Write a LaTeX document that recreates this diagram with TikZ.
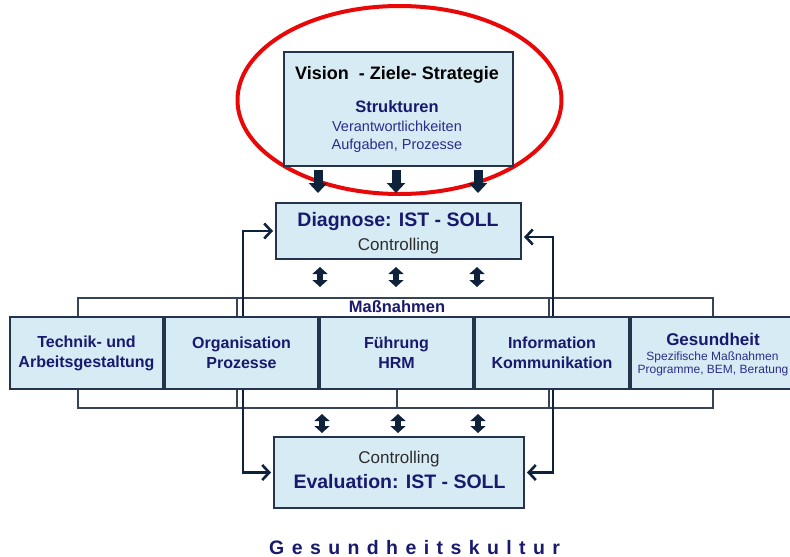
\documentclass[tikz,border=0pt]{standalone}
\usepackage{fontspec}
\setmainfont{Liberation Sans}
\usetikzlibrary{arrows.meta}
\definecolor{boxfill}{RGB}{214,235,244}
\definecolor{boxline}{RGB}{35,52,75}
\definecolor{navy}{RGB}{25,25,110}
\definecolor{navylight}{RGB}{45,45,140}
\definecolor{arrnavy}{RGB}{14,34,60}
\definecolor{framecol}{RGB}{55,68,88}
\definecolor{redring}{RGB}{232,8,8}
\definecolor{greytext}{RGB}{45,45,45}
\newcommand{\setfs}[1]{\fontsize{#1}{#1}\selectfont}
\begin{document}
\begin{tikzpicture}[x=1pt,y=-1pt,
  box/.style={draw=boxline, line width=1.6pt, fill=boxfill, inner sep=0pt, outer sep=0pt},
  rowbox/.style={box, minimum height=72pt, align=center, text=navy, font=\bfseries\fontsize{16}{20}\selectfont},
  lbl/.style={inner sep=0pt, anchor=base},
  downarr/.style={draw=arrnavy, line width=9pt, -{Triangle[length=10pt,width=18pt]}, shorten <=4pt, shorten >=10pt},
  dblarr/.style={draw=arrnavy, line width=6pt, {Triangle[length=7pt,width=15pt]}-{Triangle[length=7pt,width=15pt]}},
  fb/.style={draw=arrnavy, line width=2.6pt, {Straight Barb[length=7pt,width=15pt]}-{Straight Barb[length=7pt,width=15pt]}, shorten <=3pt, shorten >=3pt},
  framel/.style={draw=framecol, line width=1.1pt}
]
\useasboundingbox (0,0) rectangle (790,557);

% red ring
\draw[redring, line width=4pt] (399.5,100) ellipse [x radius=162, y radius=94];

% main boxes
\node[box, minimum width=229pt, minimum height=114pt] (top) at (398.5,109) {};
\node[box, minimum width=245pt, minimum height=56pt] (diag) at (398.5,231) {};
\node[box, minimum width=250pt, minimum height=71pt] (eval) at (399,472.5) {};

% Massnahmen frame
\coordinate (mtop) at (397.5,298);
\coordinate (mbot) at (397.5,408);
\draw[framel] (78,298) rectangle (713,408);
\draw[framel] (237,298) -- (237,408);
\draw[framel] (549,298) -- (549,408);
\draw[framel] (397,389) -- (397,408);

% feedback connectors
\draw[fb] (diag.west) -- ++(-33,0) |- (eval.west);
\draw[fb] ([yshift=-6pt]diag.east) -- ++(32,0) |- (eval.east);

% row of measures
\node[rowbox, minimum width=153pt] (tech) at (86.5,353) {Technik- und\\Arbeitsgestaltung};
\node[rowbox, minimum width=153pt] (org) at (241.5,353) {Organisation\\Prozesse};
\node[rowbox, minimum width=153pt] (fuehr) at (396.5,353) {Führung\\HRM};
\node[rowbox, minimum width=154pt] (info) at (552,353) {Information\\Kommunikation};
\node[box, minimum width=161pt, minimum height=72pt] (ges) at (711.5,353) {};

% block arrows
\foreach \dx/\n in {-80.5/a,-2.5/b,79.5/c}
  \draw[downarr] ([xshift=\dx pt]top.south) -- ([xshift=\dx pt]top.south |- diag.north);
\foreach \dx in {-78.5,-2.5,78.5}
  \draw[dblarr, shorten <=8pt, shorten >=11pt] ([xshift=\dx pt]diag.south) -- ([xshift=\dx pt]diag.south |- mtop);
\foreach \dx in {-77,-1,79}
  \draw[dblarr, shorten <=6pt, shorten >=4pt] ([xshift=\dx pt]eval.north |- mbot) -- ([xshift=\dx pt]eval.north);

% labels
\node[lbl, font=\bfseries\setfs{18}] (tvision) at (397,79) {Vision\ \ - Ziele- Strategie};
\node[lbl, text=navy, font=\bfseries\setfs{16.5}] (tstruk) at (397,112) {Strukturen};
\node[lbl, text=navylight, font=\setfs{14.5}] (tverant) at (397,131) {Verantwortlichkeiten};
\node[lbl, text=navylight, font=\setfs{14.5}] (taufg) at (397,149) {Aufgaben, Prozesse};

\node[lbl, text=navy, font=\bfseries\setfs{19.5}] (tdiag) at (398,226) {Diagnose: IST - SOLL};
\node[lbl, text=greytext, font=\setfs{17}] (tcontr1) at (398.5,250.5) {Controlling};

\node[lbl, text=navy, font=\bfseries\setfs{16.5}] (tmass) at (397,312) {Maßnahmen};

\node[lbl, text=navy, font=\bfseries\setfs{17}] (tges) at (713,345) {Gesundheit};
\node[lbl, text=navylight, font=\setfs{12}] (tspez) at (712.5,360) {Spezifische Maßnahmen};
\node[lbl, text=navylight, font=\setfs{12}] (tprog) at (713,373) {Programme, BEM, Beratung};

\node[lbl, text=greytext, font=\setfs{17}] (tcontr2) at (399,463) {Controlling};
\node[lbl, text=navy, font=\bfseries\setfs{19.5}] (teval) at (399.5,488) {Evaluation: IST - SOLL};

\node[lbl, anchor=base west, text=navy, font=\bfseries\setfs{19.5}\addfontfeature{LetterSpace=38}] (tkultur) at (269,554) {Gesundheitskultur};
\end{tikzpicture}
\end{document}
